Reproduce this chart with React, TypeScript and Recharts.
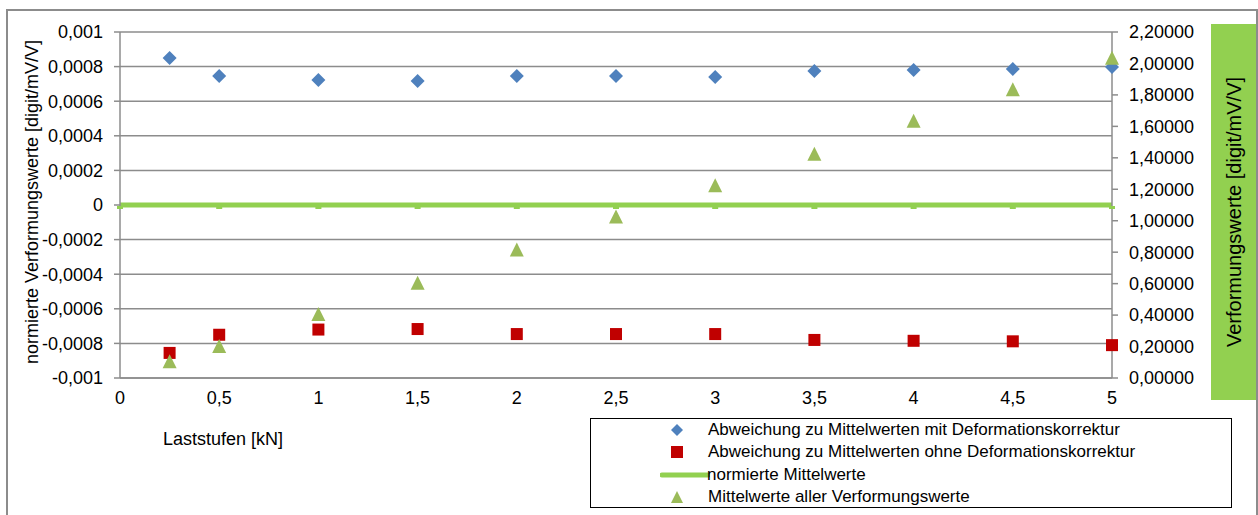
import React from 'react';
import {
  ComposedChart,
  Scatter,
  Line,
  XAxis,
  YAxis,
  CartesianGrid,
} from 'recharts';

// Laststufen [kN]
const loadSteps = [0.25, 0.5, 1, 1.5, 2, 2.5, 3, 3.5, 4, 4.5, 5];
const withCorrection = [0.00085, 0.000746, 0.000723, 0.000717, 0.000746, 0.000746, 0.00074, 0.000775, 0.00078, 0.000786, 0.000798];
const withoutCorrection = [-0.000855, -0.00075, -0.00072, -0.000717, -0.000746, -0.000746, -0.000746, -0.00078, -0.000785, -0.000788, -0.00081];
const meanValues = [0.1, 0.197, 0.4, 0.6, 0.81, 1.02, 1.22, 1.42, 1.63, 1.83, 2.03];

const normX = [0, 0.5, 1, 1.5, 2, 2.5, 3, 3.5, 4, 4.5, 5];
const normY = [0, 0, 0, 0, 0, 0, 0, 0, 0, 0, 0];

const xTicks = [0, 0.5, 1, 1.5, 2, 2.5, 3, 3.5, 4, 4.5, 5];
const leftTicks = [-0.001, -0.0008, -0.0006, -0.0004, -0.0002, 0, 0.0002, 0.0004, 0.0006, 0.0008, 0.001];
const rightTicks = [0, 0.2, 0.4, 0.6, 0.8, 1.0, 1.2, 1.4, 1.6, 1.8, 2.0, 2.2];

const BLUE = '#4F81BD';
const RED = '#C00000';
const LINE_GREEN = '#92D050';
const TRI_GREEN = '#9BBB59';
const GRID = '#8c8c8c';
const FONT = '"Liberation Sans", Arial, sans-serif';

const blueData = loadSteps.map((x, i) => ({ x, y: withCorrection[i] }));
const redData = loadSteps.map((x, i) => ({ x, y: withoutCorrection[i] }));
const triData = loadSteps.map((x, i) => ({ x, y: meanValues[i] }));
const normData = normX.map((x, i) => ({ x, y: normY[i] }));

const comma = (v: number) => String(v).replace('.', ',');
const leftFmt = (v: number) => {
  if (v === 0) return '0';
  return String(Number(v.toFixed(4))).replace('.', ',');
};
const rightFmt = (v: number) => v.toFixed(5).replace('.', ',');

const Diamond = (p: any) => {
  const { cx, cy } = p;
  const r = 7;
  return <path d={`M${cx},${cy - r}L${cx + r},${cy}L${cx},${cy + r}L${cx - r},${cy}Z`} fill={BLUE} />;
};
const Square = (p: any) => {
  const { cx, cy } = p;
  return <rect x={cx - 6} y={cy - 6} width={12} height={12} fill={RED} />;
};
const Triangle = (p: any) => {
  const { cx, cy } = p;
  return <path d={`M${cx},${cy - 8}L${cx + 7},${cy + 6}L${cx - 7},${cy + 6}Z`} fill={TRI_GREEN} />;
};
const NormDot = (p: any) => {
  const { cx, cy, index } = p;
  return <rect key={index} x={cx - 3} y={cy + 1} width={6} height={3} fill={LINE_GREEN} />;
};

const legendItems = [
  { label: 'Abweichung zu Mittelwerten mit Deformationskorrektur', kind: 'diamond' },
  { label: 'Abweichung zu Mittelwerten ohne Deformationskorrektur', kind: 'square' },
  { label: 'normierte Mittelwerte', kind: 'line' },
  { label: 'Mittelwerte aller Verformungswerte', kind: 'triangle' },
];

function LegendIcon({ kind }: { kind: string }) {
  return (
    <svg width={50} height={16} style={{ display: 'block' }}>
      {kind === 'diamond' && <path d="M17,2L23,8L17,14L11,8Z" fill={BLUE} />}
      {kind === 'square' && <rect x={11} y={2} width={12} height={12} fill={RED} />}
      {kind === 'line' && <line x1={2} y1={8} x2={48} y2={8} stroke={LINE_GREEN} strokeWidth={5} strokeLinecap="round" />}
      {kind === 'triangle' && <path d="M17,2L23,14L11,14Z" fill={TRI_GREEN} />}
    </svg>
  );
}

const tickStyle = { fill: '#000', fontSize: 18, fontFamily: FONT };

export default function App() {
  return (
    <div style={{ position: 'absolute', left: 0, top: 0, width: 1258, height: 515, background: '#fff', overflow: 'hidden', fontFamily: FONT }}>
      <div style={{ position: 'absolute', left: 6, top: 9, width: 1248, height: 520, border: `2px solid ${GRID}` }} />
      <div style={{ position: 'absolute', left: 0, top: 0 }}>
        <ComposedChart width={1258} height={515} margin={{ top: 32, right: 50, bottom: 107, left: 20 }}>
          <CartesianGrid yAxisId="left" vertical={false} stroke={GRID} strokeWidth={1.5} />
          <XAxis
            dataKey="x"
            type="number"
            domain={[0, 5]}
            ticks={xTicks}
            tickFormatter={comma}
            allowDuplicatedCategory={false}
            height={30}
            stroke={GRID}
            strokeWidth={1.5}
            tickLine={false}
            tick={tickStyle}
            tickMargin={7}
          />
          <YAxis
            yAxisId="left"
            dataKey="y"
            type="number"
            domain={[-0.001, 0.001]}
            ticks={leftTicks}
            tickFormatter={leftFmt}
            width={100}
            stroke={GRID}
            strokeWidth={1.5}
            tickSize={6}
            tickMargin={11}
            tick={tickStyle}
            interval={0}
          />
          <YAxis
            yAxisId="right"
            orientation="right"
            dataKey="y"
            type="number"
            domain={[0, 2.2]}
            ticks={rightTicks}
            tickFormatter={rightFmt}
            width={96}
            stroke={GRID}
            strokeWidth={1.5}
            tickSize={6}
            tickMargin={11}
            tick={tickStyle}
            interval={0}
          />
          <Scatter yAxisId="left" data={blueData} dataKey="y" shape={<Diamond />} isAnimationActive={false} />
          <Scatter yAxisId="left" data={redData} dataKey="y" shape={<Square />} isAnimationActive={false} />
          <Line
            yAxisId="left"
            data={normData}
            dataKey="y"
            stroke={LINE_GREEN}
            strokeWidth={5}
            dot={<NormDot />}
            activeDot={false}
            isAnimationActive={false}
          />
          <Scatter yAxisId="right" data={triData} dataKey="y" shape={<Triangle />} isAnimationActive={false} />
        </ComposedChart>
      </div>

      {/* left axis title */}
      <div
        style={{
          position: 'absolute',
          left: 32,
          top: 202,
          transform: 'translate(-50%, -50%) rotate(-90deg)',
          whiteSpace: 'nowrap',
          fontSize: 18,
        }}
      >
        normierte Verformungswerte [digit/mV/V]
      </div>

      {/* right axis title box */}
      <div style={{ position: 'absolute', left: 1211, top: 24, width: 45, height: 376, background: LINE_GREEN }} />
      <div
        style={{
          position: 'absolute',
          left: 1234,
          top: 212,
          transform: 'translate(-50%, -50%) rotate(-90deg)',
          whiteSpace: 'nowrap',
          fontSize: 20,
        }}
      >
        Verformungswerte [digit/mV/V]
      </div>

      {/* x axis title */}
      <div style={{ position: 'absolute', left: 163, top: 429, fontSize: 18 }}>Laststufen [kN]</div>

      {/* legend */}
      <div
        style={{
          position: 'absolute',
          left: 590,
          top: 418,
          width: 642,
          height: 90,
          border: '1px solid #000',
          boxSizing: 'border-box',
          paddingTop: 0,
        }}
      >
        {legendItems.map((item) => (
          <div key={item.label} style={{ display: 'flex', alignItems: 'center', height: 22.3, fontSize: 17 }}>
            <div style={{ marginLeft: 660 - 591, width: 50 }}>
              <LegendIcon kind={item.kind} />
            </div>
            <span style={{ marginLeft: item.kind === 'line' ? -3 : -2 }}>{item.label}</span>
          </div>
        ))}
      </div>
    </div>
  );
}
